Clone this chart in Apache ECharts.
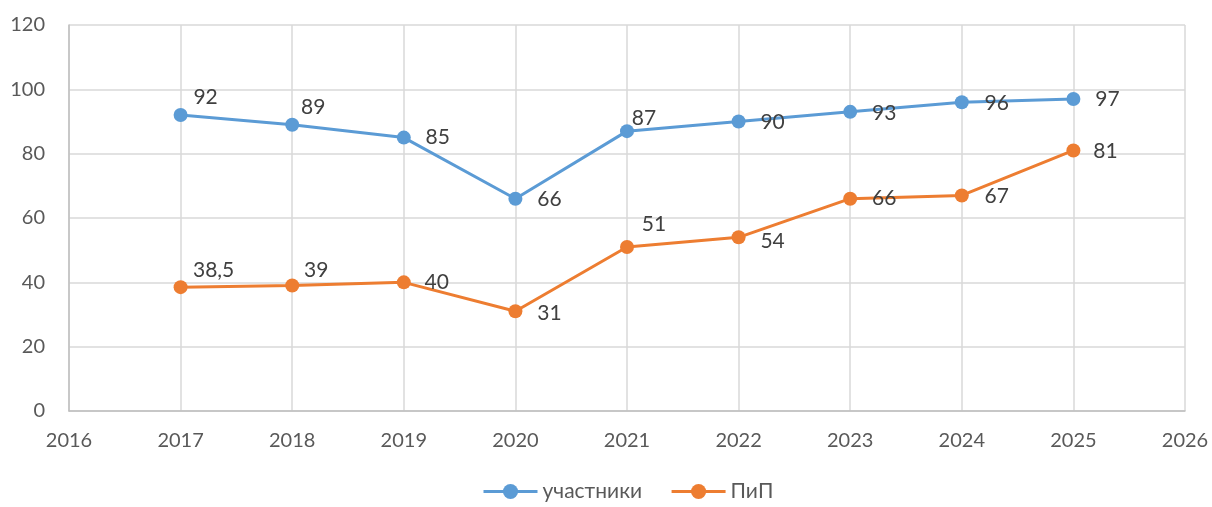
<!DOCTYPE html>
<html>
<head>
<meta charset="utf-8">
<script src="https://cdn.jsdelivr.net/npm/echarts@6/dist/echarts.min.js"></script>
<style>
  html, body { margin: 0; padding: 0; background: #fff; }
  #chart { width: 1212px; height: 507px; }
</style>
</head>
<body>
<div id="chart"></div>
<script>
const years = [2017, 2018, 2019, 2020, 2021, 2022, 2023, 2024, 2025]
const participants = [92, 89, 85, 66, 87, 90, 93, 96, 97]
const pip = [38.5, 39, 40, 31, 51, 54, 66, 67, 81]
const seriesNames = ['участники', 'ПиП']

// label offsets from the point centre, as Excel placed them
const participantsLabelOffsets = [[25, -18], [21, -17], [34, 0], [34, 1], [17, -13], [34, 1], [34, 1], [35, 1], [34, 0]]
const pipLabelOffsets = [[33, -17], [24, -15], [33, 0], [34, 2], [27, -23], [34, 4], [34, 0], [35, 1], [32, 1]]

const axisTextColor = '#595959'
const labelColor = '#404040'
const fontFamily = 'Lato, "Open Sans", sans-serif'

const buildData = (values, offsets) => values.map((v, i) => ({
  value: [years[i], v],
  label: { offset: offsets[i] }
}))

const chart = echarts.init(document.getElementById('chart'), undefined, { renderer: 'canvas' })

const makeSeries = (name, values, offsets, color) => ({
  name,
  type: 'line',
  data: buildData(values, offsets),
  symbol: 'circle',
  symbolSize: 14,
  lineStyle: { color, width: 3 },
  itemStyle: { color },
  label: {
    show: true,
    position: 'inside',
    color: labelColor,
    fontSize: 21,
    fontFamily,
    formatter: p => String(p.value[1]).replace('.', ',')
  },
  z: 3
})

chart.setOption({
  animation: false,
  textStyle: { fontFamily },
  grid: { left: 69, right: 27, top: 25, bottom: 96 },
  legend: {
    bottom: 0,
    left: 477,
    itemWidth: 54,
    itemHeight: 19,
    itemGap: 28,
    lineStyle: { width: 3 },
    textStyle: { color: axisTextColor, fontSize: 21, fontFamily },
    data: seriesNames
  },
  xAxis: {
    type: 'value',
    min: 2016,
    max: 2026,
    interval: 1,
    axisLine: { show: true, lineStyle: { color: '#bfbfbf', width: 1.5 } },
    axisTick: { show: false },
    splitLine: { show: true, lineStyle: { color: '#d9d9d9', width: 1.5 } },
    axisLabel: { color: axisTextColor, fontSize: 20, fontFamily, margin: 20, formatter: v => String(v) }
  },
  yAxis: {
    type: 'value',
    min: 0,
    max: 120,
    interval: 20,
    axisLine: { show: true, lineStyle: { color: '#bfbfbf', width: 1.5 } },
    axisTick: { show: false },
    splitLine: { show: true, lineStyle: { color: '#d9d9d9', width: 1.5 } },
    axisLabel: { color: axisTextColor, fontSize: 20, fontFamily, margin: 24 }
  },
  series: [
    makeSeries(seriesNames[0], participants, participantsLabelOffsets, '#5B9BD5'),
    makeSeries(seriesNames[1], pip, pipLabelOffsets, '#ED7D31')
  ]
})
</script>
</body>
</html>
